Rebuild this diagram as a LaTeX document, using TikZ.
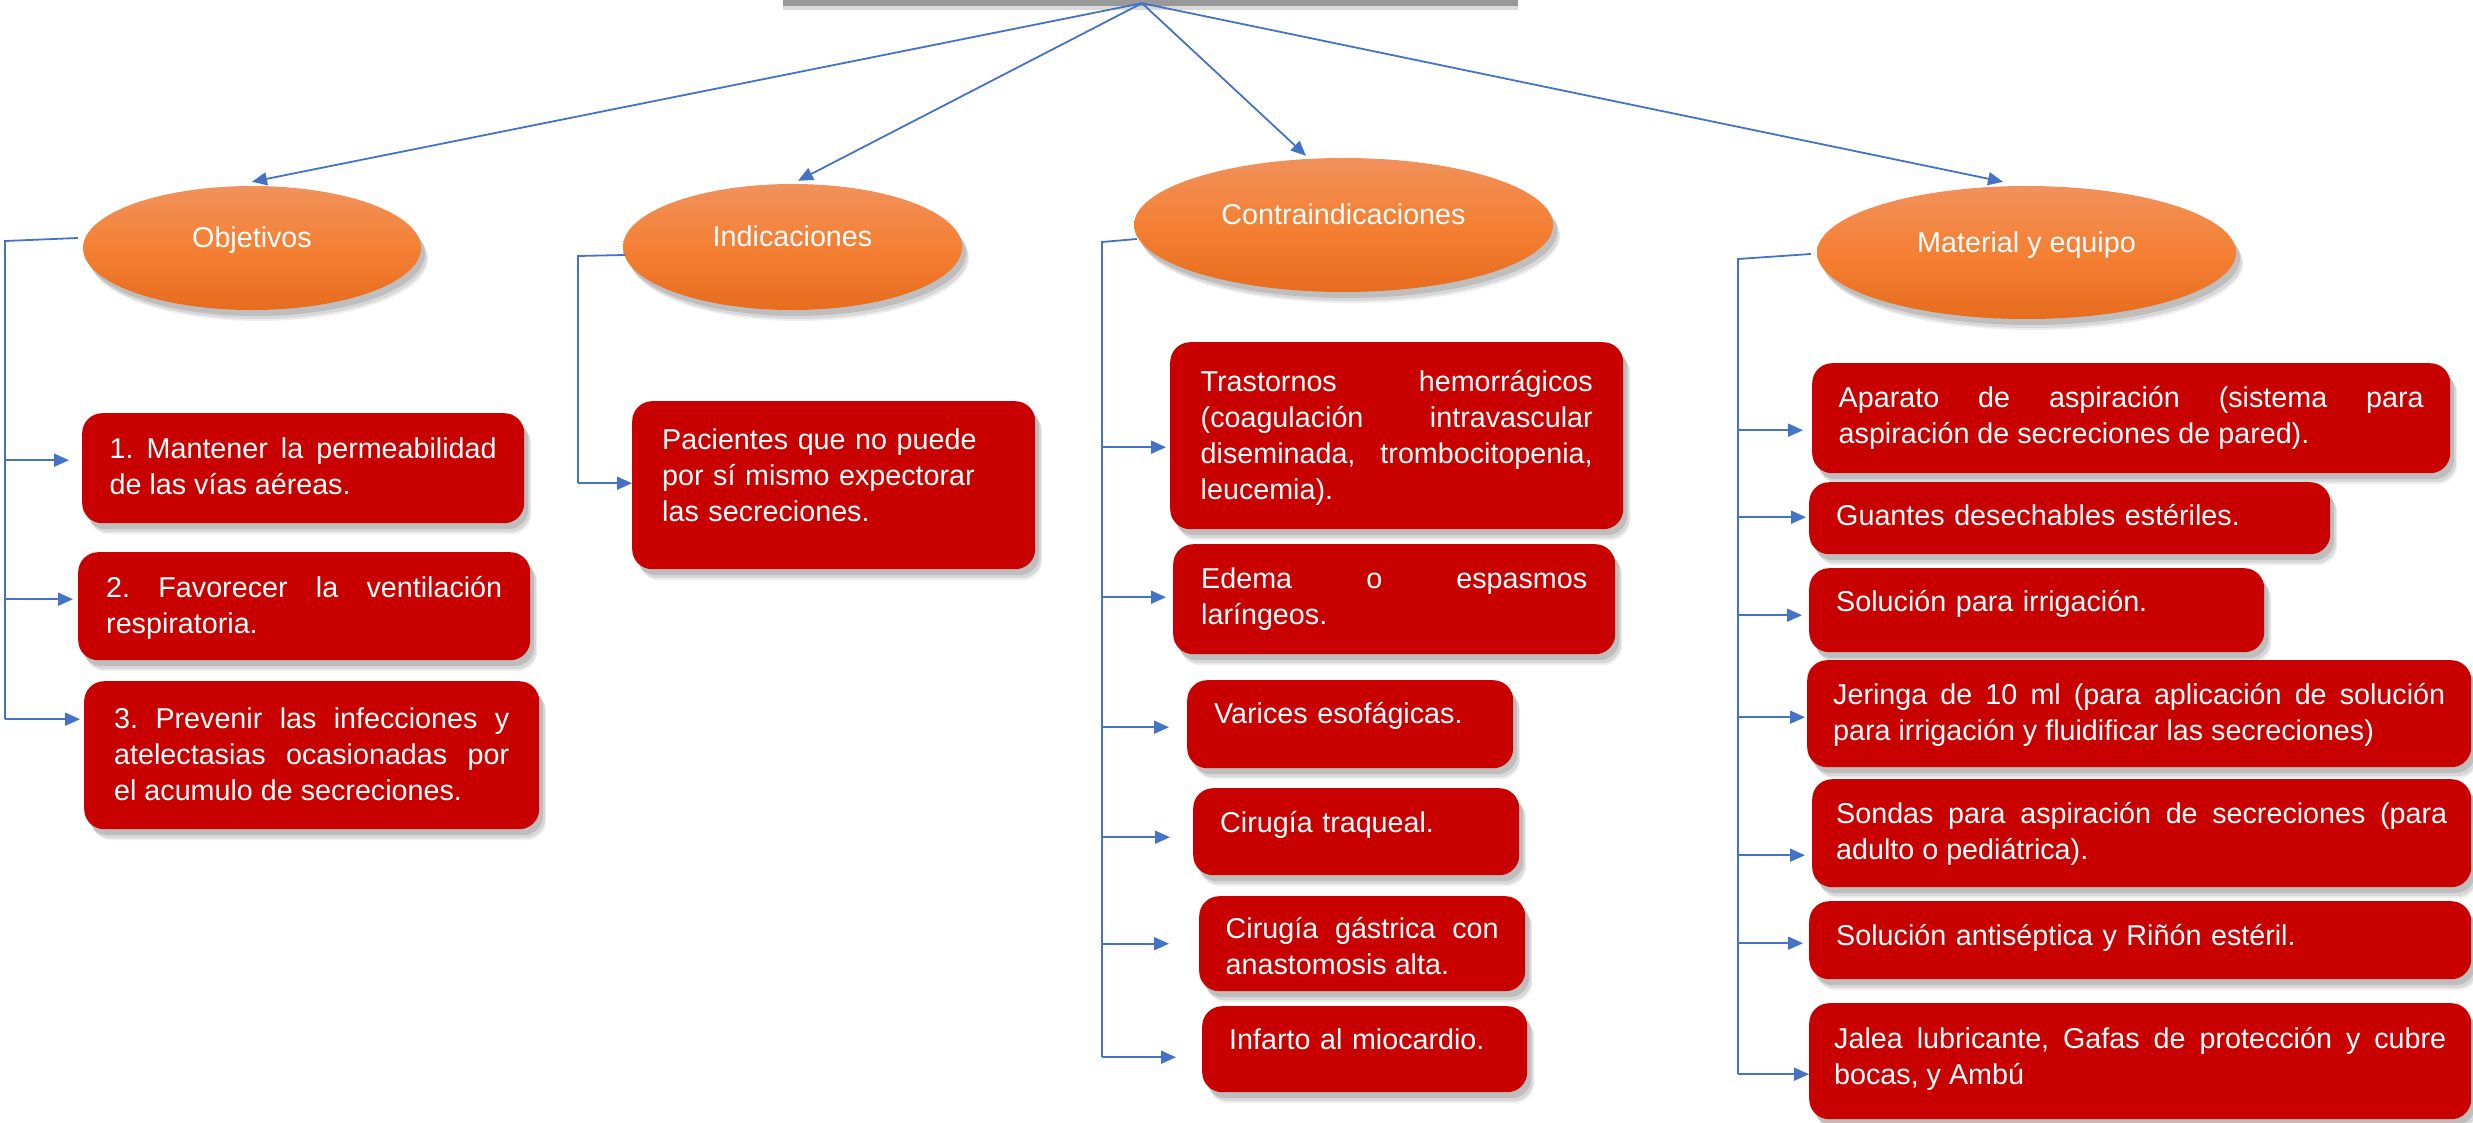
\documentclass[tikz,border=0pt]{standalone}
\usepackage{fontspec}
\setmainfont{Liberation Sans}
\usetikzlibrary{shapes.geometric,arrows.meta,shadows,calc}
\definecolor{boxred}{RGB}{200,0,0}
\definecolor{lnblue}{RGB}{68,114,196}
\definecolor{orgtop}{RGB}{241,145,92}
\definecolor{orgmid}{RGB}{244,128,52}
\definecolor{orgbot}{RGB}{231,108,30}
\newcommand\bfont{\fontsize{28.7}{36}\selectfont\frenchspacing}
\newcommand\dn[1]{\rule[-#1pt]{0pt}{#1pt}}
\newcommand\mkbox[7]{\node[rbox,minimum width={#3-#2},minimum height={#5-#4},#6] (#1) at (#2,#4) {#7};}
\newcommand\brn[4]{\coordinate (#2e) at ($(#2.west)+(-#3,#4)$);
  \draw[arr] (#1 |- #2e) -- (#2e);}
\begin{document}
\begin{tikzpicture}[x=1pt,y=-1pt,
  softshadow/.style={
    drop shadow={shadow xshift=7pt,shadow yshift=-11pt,fill=black,opacity=0.07},
    drop shadow={shadow xshift=6pt,shadow yshift=-9pt,fill=black,opacity=0.09},
    drop shadow={shadow xshift=4pt,shadow yshift=-6pt,fill=black,opacity=0.12}},
  rbox/.style={softshadow, fill=boxred, rounded corners=20pt, text=white, font=\bfont, inner sep=0pt,
    anchor=north west, execute at begin node={\tolerance=10000\hbadness=10000}},
  jt/.style={text width=#1, align=justify},
  lt/.style={text width=#1, align=left},
  ell/.style={softshadow, ellipse, top color=orgtop, bottom color=orgbot, middle color=orgmid,
    text=white, font=\bfont, inner sep=0pt, text height=20pt, text depth=20pt},
  ln/.style={draw=lnblue, line width=1.8pt},
  arr/.style={draw=lnblue, line width=1.8pt, -{Triangle[length=15pt,width=13pt]}},
  topbox/.style={fill=black!40, inner sep=0pt,
    drop shadow={shadow xshift=0pt,shadow yshift=-4pt,fill=black,opacity=0.15}}
]
\useasboundingbox (0,0) rectangle (2473,1123);

% top (cut-off) box
\node[topbox, minimum width=735pt, minimum height=66pt] (top) at (1150.5,-27) {};
\coordinate (apex) at ([xshift=-8.5pt,yshift=3pt]top.south);

% category ellipses
\node[ell, minimum width=338pt, minimum height=124pt] (obj) at (252,248) {Objetivos};
\node[ell, minimum width=339pt, minimum height=126pt] (ind) at (792.5,247) {Indicaciones};
\node[ell, minimum width=419pt, minimum height=134pt] (con) at (1343.5,225) {Contraindicaciones};
\node[ell, minimum width=419pt, minimum height=133pt] (mat) at (2026.5,252.5) {Material y equipo};

\draw[arr] (apex) -- ([yshift=4pt]obj.north);
\draw[arr] (apex) -- ([xshift=5.5pt,yshift=3pt]ind.north);
\draw[arr] (apex) -- ([xshift=-37.5pt,yshift=2pt]con.north);
\draw[arr] (apex) -- ([xshift=-23.5pt,yshift=4pt]mat.north);

% Objetivos
\mkbox{o1}{82}{524}{413}{523}{jt=387pt}{\strut 1. Mantener la permeabilidad\linebreak de las vías aéreas.\dn{8}}
\mkbox{o2}{78}{530}{552}{660}{jt=396pt}{\strut 2. Favorecer la ventilación\linebreak respiratoria.\dn{5}}
\mkbox{o3}{84}{539}{681}{829}{jt=395pt}{\strut 3. Prevenir las infecciones y\linebreak atelectasias ocasionadas por\linebreak el acumulo de secreciones.\dn{7}}

% Indicaciones
\mkbox{iB}{632}{1035}{401}{569}{lt=343pt}{\strut Pacientes que no puede\\por sí mismo expectorar\\las secreciones.\dn{25}}

% Contraindicaciones
\mkbox{cT}{1170}{1623}{342}{529}{jt=392pt}{\strut Trastornos hemorrágicos\linebreak (coagulación intravascular\linebreak diseminada, trombocitopenia,\linebreak leucemia).\dn{5}}
\mkbox{cE}{1173}{1615}{544}{654}{jt=386pt}{\strut Edema o espasmos\linebreak laríngeos.\dn{10.5}}
\mkbox{cV}{1187}{1513}{680}{768}{lt=272pt}{\strut Varices esofágicas.\dn{27}}
\mkbox{cCi}{1193}{1519}{788}{875}{lt=272pt}{\strut Cirugía traqueal.\dn{24}}
\mkbox{cG}{1199}{1525}{896}{991}{}{}
\begin{scope}
  \clip (cG.north west) rectangle ([yshift=17pt]cG.south east);
  \node[text=white, font=\bfont, inner sep=0pt, text width=273pt, align=justify,
    execute at begin node={\tolerance=10000\hbadness=10000}] (cGt) at (cG.center)
    {\strut Cirugía gástrica con\linebreak anastomosis alta.};
\end{scope}
\mkbox{cI}{1202}{1527}{1006}{1092}{lt=271pt}{\strut Infarto al miocardio.\dn{25}}

% Material y equipo
\mkbox{mA}{1812}{2450}{363}{473}{jt=585pt}{\strut Aparato de aspiración (sistema para\linebreak aspiración de secreciones de pared).\dn{11}}
\mkbox{mGu}{1809}{2330}{482}{554}{lt=467pt}{\strut Guantes desechables estériles.\dn{10}}
\mkbox{mS}{1809}{2264}{568}{652}{lt=401pt}{\strut Solución para irrigación.\dn{22}}
\mkbox{mJ}{1807}{2471}{660}{767}{jt=612pt}{\strut Jeringa de 10 ml (para aplicación de solución\linebreak para irrigación y fluidificar las secreciones)\dn{7.5}}
\mkbox{mSo}{1812}{2471}{779}{887}{jt=611pt}{\strut Sondas para aspiración de secreciones (para\linebreak adulto o pediátrica).\dn{8}}
\mkbox{mSa}{1809}{2471}{901}{979}{lt=608pt}{\strut Solución antiséptica y Riñón estéril.\dn{15}}
\mkbox{mJa}{1809}{2471}{1003}{1119}{jt=612pt}{\strut Jalea lubricante, Gafas de protección y cubre\linebreak bocas, y Ambú\dn{15}}

% bus coordinates
\coordinate (obT) at (5,241);
\coordinate (inT) at (578,256);
\coordinate (coT) at (1102,242);
\coordinate (maT) at (1738,259);

% Objetivos branches
\brn{obT}{o1}{13}{-8}
\brn{obT}{o2}{5}{-7}
\brn{obT}{o3}{4}{-36}
\draw[ln] ([xshift=-5pt,yshift=10pt]obj.west) -- (obT) -- (obT |- o3e);

% Indicaciones branch
\brn{inT}{iB}{0}{-2}
\draw[ln] ([xshift=2pt,yshift=-8pt]ind.west) -- (inT) -- (inT |- iBe);

% Contraindicaciones branches
\brn{coT}{cT}{4}{11.5}
\brn{coT}{cE}{7}{-2}
\brn{coT}{cV}{18}{3}
\brn{coT}{cCi}{23}{5.5}
\brn{coT}{cG}{30}{0}
\brn{coT}{cI}{26}{8}
\draw[ln] ([xshift=3pt,yshift=-14pt]con.west) -- (coT) -- (coT |- cIe);

% Material branches
\brn{maT}{mA}{9}{12}
\brn{maT}{mGu}{3}{-1}
\brn{maT}{mS}{7}{5}
\brn{maT}{mJ}{2}{3.5}
\brn{maT}{mSo}{7}{22}
\brn{maT}{mSa}{6}{3}
\brn{maT}{mJa}{0}{13}
\draw[ln] ([xshift=-6pt,yshift=-1.5pt]mat.west) -- (maT) -- (maT |- mJae);
\end{tikzpicture}
\end{document}
